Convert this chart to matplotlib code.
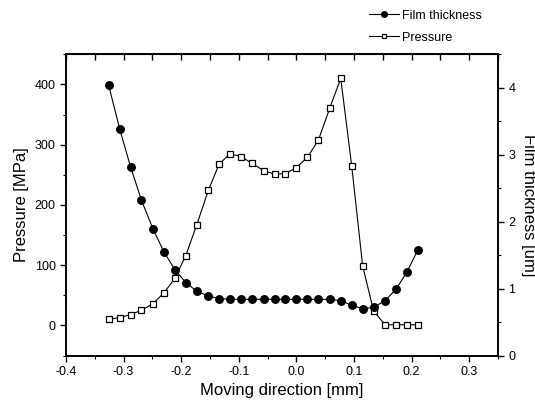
import matplotlib.pyplot as plt
from matplotlib.ticker import MultipleLocator

plt.rcParams['font.family'] = ['Liberation Sans', 'DejaVu Sans']

# positions along moving direction [mm]
x_mm = [-0.326, -0.307, -0.288, -0.269, -0.249, -0.230, -0.211, -0.192,
        -0.173, -0.153, -0.134, -0.115, -0.096, -0.077, -0.057, -0.038,
        -0.019, 0.000, 0.019, 0.038, 0.058, 0.077, 0.096, 0.115,
        0.134, 0.154, 0.173, 0.192, 0.211]

pressure = [10, 13, 18, 25, 36, 54, 78, 116, 167, 224, 268, 285, 280, 269,
            257, 251, 252, 262, 279, 307, 361, 410, 265, 99, 24, 1, 1, 1, 1]

film = [4.04, 3.39, 2.82, 2.32, 1.89, 1.55, 1.28, 1.09, 0.96, 0.89, 0.85,
        0.84, 0.84, 0.84, 0.84, 0.84, 0.84, 0.84, 0.84, 0.84, 0.84, 0.82,
        0.75, 0.70, 0.72, 0.82, 0.99, 1.25, 1.58]

fig = plt.figure(figsize=(5.35, 4.09), dpi=100)
ax = fig.add_axes([0.1234, 0.1308, 0.8074, 0.7364])
ax2 = ax.twinx()

(p_line,) = ax.plot(x_mm, pressure, color='black', lw=0.8, marker='s',
                    markersize=4.8, markerfacecolor='white',
                    markeredgecolor='black', markeredgewidth=0.9)
(f_line,) = ax2.plot(x_mm, film, color='black', lw=0.8, marker='o',
                     markersize=5.4, markerfacecolor='black')

ax.set_xlim(-0.4, 0.35)
ax.set_ylim(-50, 450)
ax2.set_ylim(0, 4.5)

ax.xaxis.set_minor_locator(MultipleLocator(0.05))
ax.yaxis.set_minor_locator(MultipleLocator(50))
ax2.yaxis.set_major_locator(MultipleLocator(1))
ax2.yaxis.set_minor_locator(MultipleLocator(0.5))
ax.set_xticks([-0.4, -0.3, -0.2, -0.1, 0.0, 0.1, 0.2, 0.3])
ax.set_xticklabels(['-0.4', '-0.3', '-0.2', '-0.1', '0.0', '0.1', '0.2', '0.3'])
ax.set_yticks([0, 100, 200, 300, 400])

ax.tick_params(axis='both', which='major', labelsize=9, length=4, width=1,
               direction='out', top=False)
ax.tick_params(axis='both', which='minor', length=2.5, width=0.8,
               direction='out', top=False)
ax2.tick_params(axis='y', which='major', labelsize=9, length=4, width=1,
                direction='out')
ax2.tick_params(axis='y', which='minor', length=2.5, width=0.8, direction='out')

# inward ticks along the top edge
ax_top = ax.secondary_xaxis('top')
ax_top.xaxis.set_major_locator(MultipleLocator(0.05))
ax_top.tick_params(direction='in', length=4, width=1, labeltop=False)

for a in (ax, ax2):
    for s in a.spines.values():
        s.set_linewidth(1.2)

ax.set_xlabel('Moving direction [mm]', fontsize=12)
ax.set_ylabel('Pressure [MPa]', fontsize=12)
ax2.set_ylabel('Film thickness [um]', fontsize=12, rotation=270, labelpad=15)

fig.legend([f_line, p_line], ['Film thickness', 'Pressure'],
           loc='upper left', bbox_to_anchor=(0.668, 1.004), frameon=False,
           fontsize=9, handlelength=2.4, handletextpad=0.3, labelspacing=0.8,
           markerscale=0.75)

fig.savefig('out.png', dpi=100)
